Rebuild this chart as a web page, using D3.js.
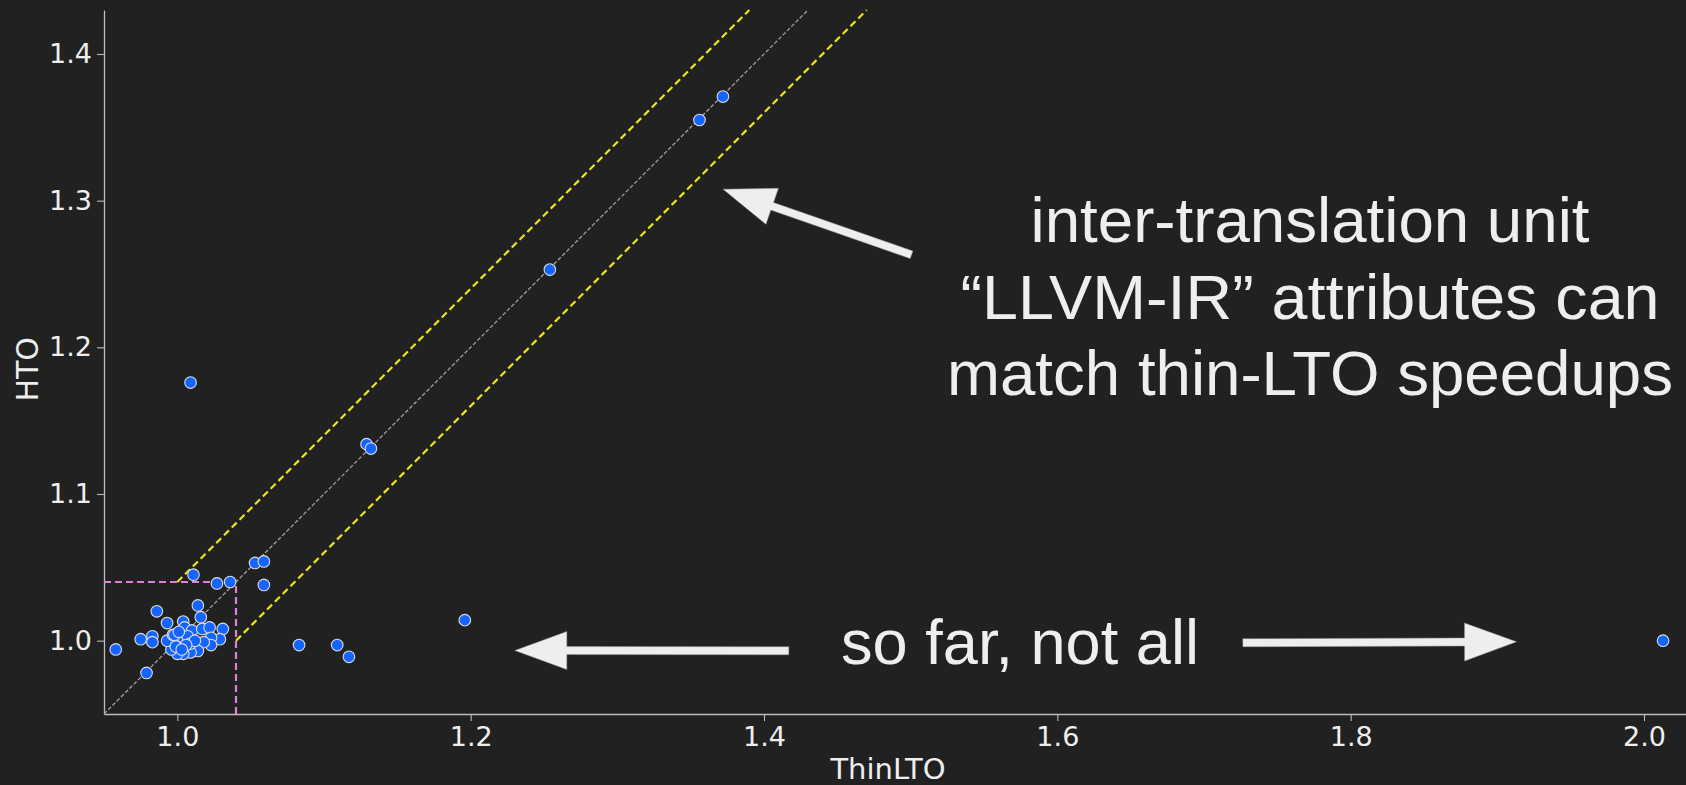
<!DOCTYPE html>
<html>
<head>
<meta charset="utf-8">
<script src="https://cdn.jsdelivr.net/npm/d3@7"></script>
<style>
  html, body { margin: 0; padding: 0; background: #212121; }
  svg { display: block; }
</style>
</head>
<body>
<script>
// HTO vs ThinLTO speedup scatter, dark slide style

const width  = 1686;
const height = 785;
const margin = { top: 10, right: -2, bottom: 71, left: 104 };

// ThinLTO speedup (x) and HTO speedup (y)
const thinLTO = [
  1.372, 1.356, 1.254, 1.009, 1.129, 1.132, 1.053, 1.059, 1.059, 1.083,
  1.109, 1.117, 1.196, 2.013,
  0.958, 0.979, 0.975, 0.983, 0.983, 0.986, 0.993, 1.011, 1.027, 1.036,
  1.014, 1.016, 1.004, 1.005, 1.010, 1.017, 1.022, 1.031, 1.029, 1.023,
  1.023, 1.018, 1.014, 1.009, 1.004, 1.000, 0.996, 0.995, 0.993, 0.997,
  1.001, 1.002, 1.003, 1.007, 1.009, 1.012, 0.999, 0.998, 1.001, 1.006,
  1.003
];
const hto = [
  1.371, 1.355, 1.253, 1.176, 1.134, 1.131, 1.053, 1.054, 1.038, 0.997,
  0.997, 0.989, 1.014, 1.000,
  0.994, 0.978, 1.001, 1.003, 0.999, 1.020, 1.012, 1.045, 1.039, 1.040,
  1.024, 1.016, 1.013, 1.009, 1.007, 1.008, 1.009, 1.008, 1.001, 1.002,
  0.997, 0.999, 0.993, 0.992, 0.991, 0.991, 0.994, 1.000, 1.000, 1.004,
  1.000, 1.000, 1.003, 1.003, 0.998, 1.000, 0.996, 1.004, 1.006, 0.997,
  0.994
];

const xTicks = [1.0, 1.2, 1.4, 1.6, 1.8, 2.0];
const yTicks = [1.0, 1.1, 1.2, 1.3, 1.4];
const xDomain = [0.95, 2.03];
const yDomain = [0.95, 1.43];

// +/- band around parity, and the "small speedup" box
const band = 0.04;

// annotation arrows in data units: [tailX, tailY, tipX, tipY]
const arrows = [
  [1.5006, 1.2631, 1.3721, 1.3078],
  [1.4169, 0.9931, 1.2301, 0.9933],
  [1.7265, 0.9986, 1.9131, 0.9992]
];

const noteLines = [
  "inter-translation unit",
  "\u201cLLVM-IR\u201d attributes can",
  "match thin-LTO speedups"
];
const noteWidths = [559, 699, 726];
const soFarText = "so far, not all";

const svg = d3.select("body").append("svg")
  .attr("width", width)
  .attr("height", height);

svg.append("rect")
  .attr("width", width)
  .attr("height", height)
  .attr("fill", "#212121");

const x = d3.scaleLinear()
  .domain(xDomain)
  .range([margin.left, width - margin.right]);

const y = d3.scaleLinear()
  .domain(yDomain)
  .range([height - margin.bottom, margin.top]);

// axes
const xAxis = svg.append("g")
  .attr("transform", `translate(0,${height - margin.bottom})`)
  .call(d3.axisBottom(x).tickValues(xTicks).tickFormat(d3.format(".1f"))
    .tickSize(7).tickSizeOuter(0).tickPadding(6));

const yAxis = svg.append("g")
  .attr("transform", `translate(${margin.left},0)`)
  .call(d3.axisLeft(y).tickValues(yTicks).tickFormat(d3.format(".1f"))
    .tickSize(7).tickSizeOuter(0).tickPadding(5));

[xAxis, yAxis].forEach(a => {
  a.select(".domain").attr("stroke", "#bdbdbd").attr("stroke-width", 1.3);
  a.selectAll(".tick line").attr("stroke", "#bdbdbd").attr("stroke-width", 1.1);
  a.selectAll(".tick text")
    .attr("fill", "#eeeeee")
    .style("font-family", "'DejaVu Sans', sans-serif")
    .style("font-size", "27px");
});

svg.append("text")
  .attr("x", 888)
  .attr("y", height - 6)
  .attr("text-anchor", "middle")
  .attr("fill", "#eeeeee")
  .style("font-family", "'DejaVu Sans', sans-serif")
  .style("font-size", "29px")
  .text("ThinLTO");

svg.append("text")
  .attr("transform", `translate(38,${y(1.185)}) rotate(-90)`)
  .attr("text-anchor", "middle")
  .attr("fill", "#eeeeee")
  .style("font-family", "'DejaVu Sans', sans-serif")
  .style("font-size", "30px")
  .text("HTO");

// guide lines
const guides = svg.append("g");

guides.append("line")
  .attr("x1", x(yDomain[0])).attr("y1", y(yDomain[0]))
  .attr("x2", x(yDomain[1])).attr("y2", y(yDomain[1]))
  .attr("stroke", "#a8a8a8")
  .attr("stroke-width", 1.2)
  .attr("stroke-dasharray", "4 2");

const yellowLines = [
  [1.0, 1.0 + band, yDomain[1] - band, yDomain[1]],
  [1.0 + band, 1.0, yDomain[1] + band, yDomain[1]]
];
guides.selectAll(".yellow")
  .data(yellowLines)
  .enter().append("line")
  .attr("class", "yellow")
  .attr("x1", d => x(d[0])).attr("y1", d => y(d[1]))
  .attr("x2", d => x(d[2])).attr("y2", d => y(d[3]))
  .attr("stroke", "#ebe51c")
  .attr("stroke-width", 2.2)
  .attr("stroke-dasharray", "7 4");

const pinkLines = [
  [xDomain[0], 1.0 + band, 1.0 + band, 1.0 + band],
  [1.0 + band, yDomain[0], 1.0 + band, 1.0 + band]
];
guides.selectAll(".pink")
  .data(pinkLines)
  .enter().append("line")
  .attr("class", "pink")
  .attr("x1", d => x(d[0])).attr("y1", d => y(d[1]))
  .attr("x2", d => x(d[2])).attr("y2", d => y(d[3]))
  .attr("stroke", "#de80dc")
  .attr("stroke-width", 2.2)
  .attr("stroke-dasharray", "7 4");

// points
svg.append("g")
  .selectAll("circle")
  .data(d3.range(thinLTO.length))
  .enter().append("circle")
  .attr("cx", i => x(thinLTO[i]))
  .attr("cy", i => y(hto[i]))
  .attr("r", 5.8)
  .attr("fill", "#1464ff")
  .attr("stroke", "#dcdcdc")
  .attr("stroke-width", 1.1);

// arrows
function arrowPath(d) {
  const x0 = x(d[0]), y0 = y(d[1]), x1 = x(d[2]), y1 = y(d[3]);
  const len = Math.hypot(x1 - x0, y1 - y0);
  const ux = (x1 - x0) / len, uy = (y1 - y0) / len;
  const nx = -uy, ny = ux;
  const headLen = 52, headHalf = 19, shaftHalf = 4;
  const bx = x1 - ux * headLen, by = y1 - uy * headLen;
  const pts = [
    [x0 + nx * shaftHalf, y0 + ny * shaftHalf],
    [bx + nx * shaftHalf, by + ny * shaftHalf],
    [bx + nx * headHalf, by + ny * headHalf],
    [x1, y1],
    [bx - nx * headHalf, by - ny * headHalf],
    [bx - nx * shaftHalf, by - ny * shaftHalf],
    [x0 - nx * shaftHalf, y0 - ny * shaftHalf]
  ];
  return "M" + pts.map(p => p.join(",")).join("L") + "Z";
}

svg.append("g")
  .selectAll("path")
  .data(arrows)
  .enter().append("path")
  .attr("d", arrowPath)
  .attr("fill", "#eeeeee")
  .attr("stroke", "#999")
  .attr("stroke-width", 0.5);

// annotation text
const note = svg.append("g")
  .attr("fill", "#eeeeee")
  .style("font-family", "'Liberation Sans', Arial, sans-serif")
  .style("font-size", "63px");

note.selectAll("text")
  .data(noteLines)
  .enter().append("text")
  .attr("x", 1310)
  .attr("y", (d, i) => 242 + i * 76.5)
  .attr("text-anchor", "middle")
  .attr("textLength", (d, i) => noteWidths[i])
  .attr("lengthAdjust", "spacingAndGlyphs")
  .text(d => d);

note.append("text")
  .attr("x", 1020)
  .attr("y", 664)
  .attr("text-anchor", "middle")
  .attr("textLength", 358)
  .attr("lengthAdjust", "spacingAndGlyphs")
  .text(soFarText);
</script>
</body>
</html>
